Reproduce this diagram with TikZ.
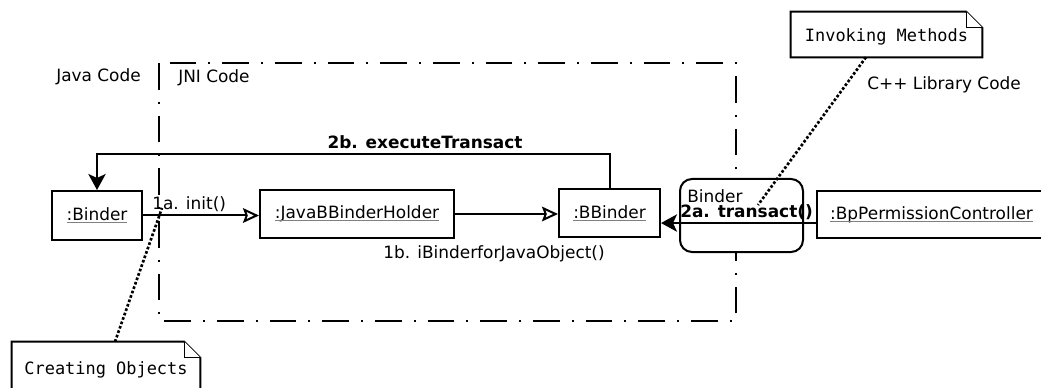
\documentclass[tikz,border=0pt]{standalone}
\usepackage{fontspec}
\setmainfont{DejaVu Sans}
\setmonofont{DejaVu Sans Mono}
\usetikzlibrary{arrows.meta}
\newcommand\objname[1]{{\color{gray}\underline{\color{black}\smash{#1}}}\vphantom{#1}}
\newcommand\notefold[1]{%
  \draw[line width=1.5pt, fill=white] (#1.north west) -- ([xshift=-12pt]#1.north east) -- ([yshift=-12pt]#1.north east) -- (#1.south east) -- (#1.south west) -- cycle;
  \draw[line width=0.7pt, fill=white] ([xshift=-12pt]#1.north east) -- ([xshift=-12pt,yshift=-12pt]#1.north east) -- ([yshift=-12pt]#1.north east);}
\begin{document}
\begin{tikzpicture}[x=0.75pt,y=-0.75pt,
  every node/.style={font=\fontsize{12.7}{15}\selectfont},
  obj/.style={draw, line width=1.5pt, fill=white, inner sep=0pt},
  lbl/.style={inner sep=0pt},
  boldlbl/.style={inner sep=0pt, font=\fontsize{12.7}{15}\selectfont\bfseries},
  bnd/.style={line width=1.5pt, dash pattern=on 20pt off 9pt on 1.5pt off 9pt},
  msg/.style={line width=1.5pt},
  opentip/.style={-{Stealth[open,length=12pt,width=11pt,inset=2pt]}},
  filltip/.style={-{Stealth[length=12pt,width=13pt,inset=3pt]}},
  dots/.style={line width=2pt, dash pattern=on 2pt off 1.5pt},
  notebody/.style={inner sep=0pt, font=\ttfamily\fontsize{12.7}{15}\selectfont}]
\useasboundingbox (0,0) rectangle (1041,388);

% JNI boundary
\draw[bnd] (159,63) rectangle (736,321);

% region labels
\node[lbl, anchor=west] (java) at (56,77) {Java Code};
\node[lbl, anchor=west] (jni) at (178,78) {JNI Code};
\node[lbl, anchor=west] (cpp) at (867,85) {C++ Library Code};

% objects
\node[obj, rounded corners=9pt, minimum width=92.25pt, minimum height=54.75pt] (rbox) at (741.5,215.5) {};
\node[obj, minimum width=67.5pt, minimum height=36.75pt] (binder) at (97,215.5) {\objname{:Binder}};
\node[obj, minimum width=145.5pt, minimum height=36pt] (holder) at (357,214) {\objname{:JavaBBinderHolder}};
\node[obj, minimum width=75.75pt, minimum height=36pt] (bbinder) at (609.5,213) {\objname{:BBinder}};
\node[obj, minimum width=171.75pt, minimum height=35.25pt] (bp) at (931.5,214.5) {\objname{:BpPermissionController}};

% messages
\draw[msg, opentip] (binder.east) -- (holder.west |- binder.east);
\draw[msg, opentip] (holder.east) -- (bbinder.west |- holder.east);
\coordinate (a2) at ([yshift=-6.4pt]bp.west);
\draw[msg, filltip] (a2) -- (bbinder.east |- a2);
\coordinate (c2b) at (609.5,154);
\draw[msg, filltip] (bbinder.north) -- (bbinder.north |- c2b) -| (binder.north);

% message labels
\node[boldlbl] (l2b) at (425,142) {2b. executeTransact};
\node[lbl, anchor=west] (l1a) at (152,204) {1a. init()};
\node[lbl, anchor=west] (l1b) at (383,254) {1b. iBinderforJavaObject()};
\node[lbl, anchor=west] (rlbl) at (687,196) {Binder};
\node[boldlbl, anchor=west] (l2a) at (680,212) {2a. transact()};

% notes
\node[notebody, minimum width=143.25pt, minimum height=33.75pt] (inv) at (886.5,34.5) {};
\notefold{inv}
\node[notebody] (invt) at (886.5,37) {Invoking Methods};
\node[notebody, minimum width=141pt, minimum height=42pt] (crt) at (106,370) {};
\notefold{crt}
\node[notebody] (crtt) at (106,370) {Creating Objects};

% note connectors
\coordinate (invend) at (758,205);
\coordinate (crtend) at (162,208);
\draw[dots] ([xshift=-15.4pt]inv.south) -- (invend);
\draw[dots] ([xshift=6.75pt]crt.north) -- (crtend);
\end{tikzpicture}
\end{document}
